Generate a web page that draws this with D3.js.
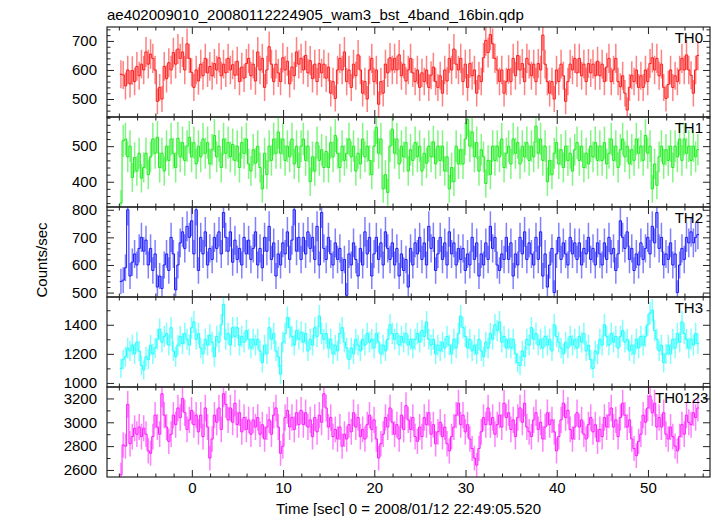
<!DOCTYPE html>
<html><head><meta charset="utf-8">
<script src="https://cdn.jsdelivr.net/npm/d3@7"></script>
<style>
body{margin:0;background:#fff}
text{font-family:"Liberation Sans",Arial,Helvetica,sans-serif}
</style>
</head><body>
<svg id="chart" width="717" height="516"></svg>
<script>
// ---------------- data ----------------
const title = "ae402009010_20080112224905_wam3_bst_4band_16bin.qdp";
const xLabel = "Time [sec] 0 = 2008/01/12 22:49:05.520";
const yLabel = "Counts/sec";
const panelNames = ["TH0", "TH1", "TH2", "TH3", "TH0123"];
const binStart = -7.9;   // left edge of first bin (s)
const binWidth = 0.25;   // s
const xTickMajor = [0, 10, 20, 30, 40, 50];
const yDomains = [[438, 748], [329, 582], [484, 810], [972, 1591], [2541, 3296]];
const yTickMajor = [[500, 600, 700], [400, 500], [500, 600, 700, 800], [1000, 1200, 1400], [2600, 2800, 3000, 3200]];
const yMinorStep = [20, 20, 20, 100, 100];
const colors = ["#ff1a1a", "#1aee1a", "#1a1aff", "#1affff", "#ff1aff"];

const th0 = [
585,583,545,600,552,598,560,612,580,620,
600,662,620,655,640,600,492,540,500,612,
570,625,600,660,620,672,640,662,600,690,
640,592,540,600,562,620,580,640,590,612,
580,622,600,642,580,620,590,640,600,618,
582,630,560,610,572,622,640,580,620,562,
662,600,640,540,600,680,620,560,620,590,
560,642,600,630,552,610,580,662,620,640,
600,650,590,632,570,620,560,622,590,620,
572,610,520,560,502,600,640,600,662,560,
600,540,620,580,652,600,520,560,500,600,
640,560,600,482,560,520,620,590,642,600,
640,600,652,580,620,562,600,640,590,560,
600,540,590,560,600,540,582,610,560,540,
580,520,600,562,640,600,672,620,600,640,
560,620,540,622,580,600,520,580,560,642,
702,660,722,690,640,600,560,600,520,560,
602,560,640,580,650,600,622,560,640,620,
580,620,560,622,600,720,620,560,520,560,
500,600,560,620,580,492,560,620,600,640,
590,640,580,620,560,622,590,620,580,630,
580,620,560,610,640,560,600,640,560,542,
580,520,462,540,582,560,600,540,580,540,
600,560,622,642,600,640,580,620,540,502,
550,600,540,580,560,600,640,600,652,600,
582,520,600,650];

const th1 = [
340,515,520,470,500,412,468,430,480,410,
440,480,420,470,520,480,525,440,480,430,
500,460,520,480,440,522,470,510,460,500,
525,470,510,450,500,470,520,480,510,450,
490,530,470,500,440,520,480,510,470,505,
460,500,440,510,480,520,450,430,490,452,
500,440,380,480,420,500,460,520,480,540,
480,520,460,500,470,520,450,500,440,500,
520,460,500,400,470,430,510,460,490,440,
485,440,510,470,530,480,440,500,460,480,
520,470,500,430,480,450,520,470,500,460,
420,500,553,480,520,380,420,370,500,548,
480,520,450,500,470,510,430,490,460,510,
470,500,430,480,452,500,470,512,450,500,
460,500,430,470,380,440,400,500,450,490,
450,520,575,500,540,470,510,430,490,470,
395,460,420,500,460,500,470,520,440,480,
500,450,520,480,510,450,500,470,510,460,
500,470,556,480,520,460,500,400,460,420,
480,510,450,490,440,500,460,480,430,490,
510,460,500,440,480,450,500,470,510,460,
500,460,510,450,480,520,460,500,440,490,
520,470,500,450,490,460,520,480,500,460,
530,480,500,380,450,390,470,500,450,490,
460,500,440,500,470,520,460,520,480,500,
460,500,470,490];

const th2 = [
540,545,590,800,560,610,640,600,660,700,
650,690,600,660,580,640,520,560,515,600,
640,580,700,640,510,600,680,720,660,740,
700,760,640,800,580,700,640,720,600,660,
620,700,660,720,640,790,700,650,720,610,
690,620,660,600,700,640,690,620,660,720,
600,660,590,700,650,740,620,680,560,640,
600,680,640,720,620,690,800,650,700,620,
700,640,720,660,700,620,740,600,790,660,
620,700,640,600,680,620,660,580,620,490,
640,600,680,620,560,660,600,720,640,700,
560,640,700,620,680,600,720,660,620,680,
600,660,560,640,580,620,520,660,600,680,
640,700,620,680,600,740,660,700,580,640,
700,620,680,600,720,640,680,600,660,620,
660,580,640,600,700,620,680,560,640,600,
680,620,740,660,700,600,580,640,620,700,
620,680,560,640,600,700,640,720,620,680,
640,600,700,620,720,560,640,520,600,660,
500,640,700,620,680,640,600,700,640,680,
620,680,600,660,640,700,620,660,600,680,
640,600,680,620,700,640,660,580,640,760,
700,660,720,620,660,580,640,600,680,620,
660,700,640,740,680,790,660,700,600,640,
620,680,600,640,500,600,660,620,700,680,
720,680,700,710];

const th3 = [
1100,1160,1180,1240,1220,1260,1200,1280,1220,1120,
1090,1180,1160,1260,1200,1240,1300,1370,1280,1320,
1340,1260,1380,1220,1180,1260,1320,1270,1340,1300,
1260,1380,1420,1300,1340,1240,1200,1300,1260,1330,
1280,1180,1320,1280,1400,1540,1300,1340,1260,1380,
1320,1380,1260,1320,1280,1360,1300,1240,1300,1260,
1300,1220,1140,1260,1200,1380,1300,1340,1220,1180,
1060,1280,1340,1450,1380,1320,1260,1360,1300,1350,
1280,1340,1220,1300,1260,1380,1320,1460,1340,1300,
1340,1240,1300,1200,1260,1220,1340,1380,1280,1240,
1160,1240,1200,1300,1260,1220,1300,1260,1340,1280,
1300,1240,1340,1280,1200,1260,1220,1300,1400,1340,
1300,1340,1260,1320,1280,1340,1260,1300,1240,1300,
1340,1280,1360,1320,1420,1300,1260,1300,1200,1260,
1220,1280,1240,1320,1260,1200,1300,1240,1340,1460,
1380,1320,1240,1300,1220,1260,1200,1300,1220,1180,
1280,1240,1340,1300,1400,1360,1420,1280,1320,1240,
1300,1240,1300,1200,1140,1120,1220,1180,1300,1260,
1380,1300,1340,1260,1300,1240,1320,1260,1300,1220,
1400,1320,1280,1240,1200,1280,1240,1320,1260,1300,
1240,1320,1280,1340,1220,1260,1160,1100,1220,1200,
1300,1260,1400,1320,1260,1340,1280,1320,1240,1320,
1360,1280,1300,1220,1260,1200,1300,1240,1320,1260,
1320,1400,1480,1500,1360,1300,1220,1260,1140,1200,
1260,1200,1300,1240,1340,1280,1420,1340,1300,1240,
1300,1260,1340,1270];

const th0123 = [
2560,2810,2800,3150,2820,2880,2950,2900,2960,2880,
2950,2900,2760,2740,2880,3060,2960,2900,3240,3060,
2960,2840,2900,3060,2980,3120,3040,3200,3080,2940,
3020,3100,2980,3060,2920,3060,2880,3120,2960,2700,
2860,3060,3000,3120,2940,3240,3150,3020,3120,3000,
3160,2980,3080,2920,3040,2940,3020,2900,3020,2960,
3040,2900,2980,2860,2960,3020,2900,3060,3120,2960,
2740,2800,3040,3100,2960,3040,2940,3080,2980,3100,
2980,3080,2960,3020,2880,3040,2920,3060,3000,3240,
3120,2960,3040,2880,2940,2860,2960,2800,2900,2860,
2980,2920,3080,2960,3040,2880,2940,2860,2980,3060,
2940,3020,2860,2700,2820,2900,3040,2960,3120,3000,
2900,2980,2860,3060,2940,3140,3020,2940,3040,2880,
2840,2960,2880,3040,2980,3080,2900,2980,2820,2920,
3000,2880,2960,2820,2760,2880,2960,3060,3160,2980,
3060,2920,2980,2860,2780,2700,2640,2780,2920,3040,
2980,3120,2980,3040,2900,2980,3060,2960,3160,3040,
3080,2940,3020,2880,3040,3120,3000,3160,2960,2920,
2880,3020,3080,2940,3000,2860,2960,3080,2980,3020,
2920,2760,2880,3020,3160,3040,3100,2940,2860,2960,
3080,2960,3020,2900,2860,2980,3040,2920,2980,2840,
2940,2880,3040,2960,3060,3120,2960,3020,2880,3040,
3160,3060,2960,3020,2860,2780,2720,2840,2900,3060,
3000,3120,3220,3080,3160,2960,3040,2960,3080,2900,
2860,2960,2880,2800,2760,2880,2980,2900,3060,3000,
2980,3080,3040,3120];

const series = [th0, th1, th2, th3, th0123];

// ---------------- layout ----------------
const L = 107, R = 710, T = 27, B = 477;
const nP = series.length;
const pH = (B - T) / nP;
const svg = d3.select("#chart");

const x = d3.scaleLinear().domain([-9.3, 56.8]).range([L, R]);
const xMinor = d3.range(-8, 57, 2).filter(v => !xTickMajor.includes(v));

svg.append("text").attr("x", L).attr("y", 20).attr("font-size", 15).attr("fill", "#000").text(title);

series.forEach((vals, p) => {
  const top = T + p * pH, bot = top + pH;
  const y = d3.scaleLinear().domain(yDomains[p]).range([bot, top]);
  const [y0, y1] = yDomains[p];
  const yMinor = d3.range(Math.ceil(y0 / yMinorStep[p]) * yMinorStep[p], y1, yMinorStep[p]).filter(v => !yTickMajor[p].includes(v));

  const clipId = "clip" + p;
  svg.append("clipPath").attr("id", clipId).append("rect")
    .attr("x", L).attr("y", top).attr("width", R - L).attr("height", pH);
  const g = svg.append("g").attr("clip-path", `url(#${clipId})`);

  // Poisson error bars
  let de = "";
  vals.forEach((v, i) => {
    const tc = binStart + (i + 0.5) * binWidth;
    const e = Math.sqrt(v * binWidth) / binWidth;
    de += `M${x(tc)},${y(v - e)}V${y(v + e)}`;
  });
  g.append("path").attr("d", de).attr("fill", "none")
    .attr("stroke", colors[p]).attr("stroke-width", 1.5).attr("stroke-opacity", 0.55);

  // histogram steps
  const stepPts = [];
  vals.forEach((v, i) => {
    const t0 = binStart + i * binWidth;
    stepPts.push([t0, v], [t0 + binWidth, v]);
  });
  const line = d3.line().x(d => x(d[0])).y(d => y(d[1]));
  g.append("path").attr("d", line(stepPts)).attr("fill", "none")
    .attr("stroke", colors[p]).attr("stroke-width", 1);

  // axes (ticks inward on all sides)
  const gb = svg.append("g").attr("transform", `translate(0,${bot})`);
  gb.call(d3.axisBottom(x).tickValues(xTickMajor).tickSize(-7).tickPadding(5)
    .tickFormat(p === nP - 1 ? d3.format("d") : () => ""));
  gb.append("g").call(d3.axisBottom(x).tickValues(xMinor).tickSize(-3.5).tickFormat(() => ""));
  const gt = svg.append("g").attr("transform", `translate(0,${top})`);
  gt.call(d3.axisTop(x).tickValues(xTickMajor).tickSize(-7).tickFormat(() => ""));
  gt.append("g").call(d3.axisTop(x).tickValues(xMinor).tickSize(-3.5).tickFormat(() => ""));
  const gl = svg.append("g").attr("transform", `translate(${L},0)`);
  gl.call(d3.axisLeft(y).tickValues(yTickMajor[p]).tickSize(-7).tickPadding(10).tickFormat(d3.format("d")));
  gl.append("g").call(d3.axisLeft(y).tickValues(yMinor).tickSize(-3.5).tickFormat(() => ""));
  const gr = svg.append("g").attr("transform", `translate(${R},0)`);
  gr.call(d3.axisRight(y).tickValues(yTickMajor[p]).tickSize(-7).tickFormat(() => ""));
  gr.append("g").call(d3.axisRight(y).tickValues(yMinor).tickSize(-3.5).tickFormat(() => ""));

  svg.selectAll(".domain").remove();

  svg.append("rect").attr("x", L).attr("y", top).attr("width", R - L).attr("height", pH)
    .attr("fill", "none").attr("stroke", "#222").attr("stroke-width", 1.2);

  const lab = svg.append("text").attr("y", top + 16).attr("font-size", 15).attr("fill", "#000").text(panelNames[p]);
  if (p === nP - 1) lab.attr("x", 655); else lab.attr("x", 703).attr("text-anchor", "end");
});

svg.selectAll(".tick line").attr("stroke", "#222").attr("stroke-width", 1);
svg.selectAll(".tick text").attr("font-size", 15).attr("fill", "#000")
  .attr("font-family", '"Liberation Sans",Arial,Helvetica,sans-serif');

svg.append("text").attr("x", (L + R) / 2).attr("y", 514).attr("text-anchor", "middle")
  .attr("font-size", 15).attr("fill", "#000").text(xLabel);
svg.append("text").attr("transform", `translate(47,${(T + B) / 2 + 8}) rotate(-90)`)
  .attr("text-anchor", "middle").attr("font-size", 15).attr("fill", "#000").text(yLabel);
</script>
</body></html>
